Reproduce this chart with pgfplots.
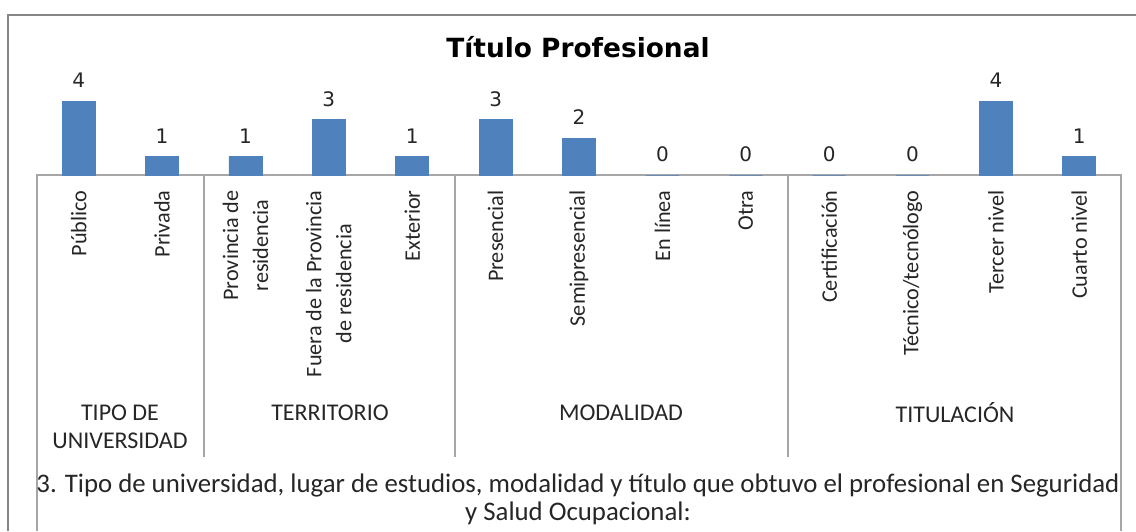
\documentclass[border=0pt]{standalone}
\usepackage{pgfplots}
\pgfplotsset{compat=1.18}
\usepackage{fontspec}
\setmainfont{Carlito}
\newfontfamily\dejavu{DejaVu Sans}
\definecolor{barblue}{HTML}{4F81BD}
\definecolor{linegray}{HTML}{A6A6A6}
\definecolor{framegray}{HTML}{868686}
\definecolor{txt}{HTML}{262626}
\begin{document}
\begin{tikzpicture}
\begin{scope}[x=0.5pt,y=-0.5pt]
\useasboundingbox (0,0) rectangle (1136,531);
\draw[framegray, line width=1.2pt] (8,531) -- (8,15) -- (1136,15);
\draw[linegray, line width=0.6pt] (37,531) -- (37,175) -- (1121,175) -- (1121,531);
\foreach \x in {204,455,788} \draw[linegray, line width=0.6pt] (\x,175) -- (\x,457);
\node[font=\dejavu\bfseries\fontsize{13.2}{16}\selectfont] at (578,47) {Título Profesional};
\node[txt, font=\fontsize{12}{14}\selectfont, align=center] at (120,427) {TIPO DE\\UNIVERSIDAD};
\node[txt, font=\fontsize{12}{14}\selectfont] at (330,413) {TERRITORIO};
\node[txt, font=\fontsize{12}{14}\selectfont] at (621,413) {MODALIDAD};
\node[txt, font=\fontsize{12}{14}\selectfont] at (955,413) {TITULACIÓN};
\node[txt, font=\fontsize{13.4}{14}\selectfont, align=center] at (578,499) {3. Tipo de universidad, lugar de estudios, modalidad y título que obtuvo el profesional en Seguridad\\y Salud Ocupacional:};
\end{scope}
\begin{axis}[
  at={(18.5pt,-87.5pt)}, anchor=south west,
  scale only axis, width=542pt, height=37pt,
  xmin=-0.5, xmax=12.5, ymin=0, ymax=4,
  clip=false,
  axis x line=bottom, x axis line style={draw=none,-},
  hide y axis,
  major tick length=0pt,
  /pgf/number format/assume math mode=true,
  xtick={0,...,12},
  xticklabels={P\'ublico, Privada, {Provincia de\\residencia}, {Fuera de la Provincia\\de residencia}, Exterior, Presencial, Semipresencial, {En l\'inea}, Otra, Certificaci\'on, {T\'ecnico/tecn\'ologo}, {Tercer nivel}, {Cuarto nivel}},
  xticklabel style={rotate=90, anchor=east, align=center, inner xsep=7.5pt, text=txt, font=\fontsize{11.1}{15}\selectfont},
  ybar, bar width=16.5pt,
  nodes near coords,
  every node near coord/.append style={font=\dejavu\fontsize{10}{12}\selectfont, text=txt, yshift=3pt},
]
\addplot[fill=barblue, draw=barblue] coordinates {
(0,4) (1,1) (2,1) (3,3) (4,1) (5,3) (6,2) (7,0) (8,0) (9,0) (10,0) (11,4) (12,1)};
\end{axis}
\end{tikzpicture}
\end{document}
